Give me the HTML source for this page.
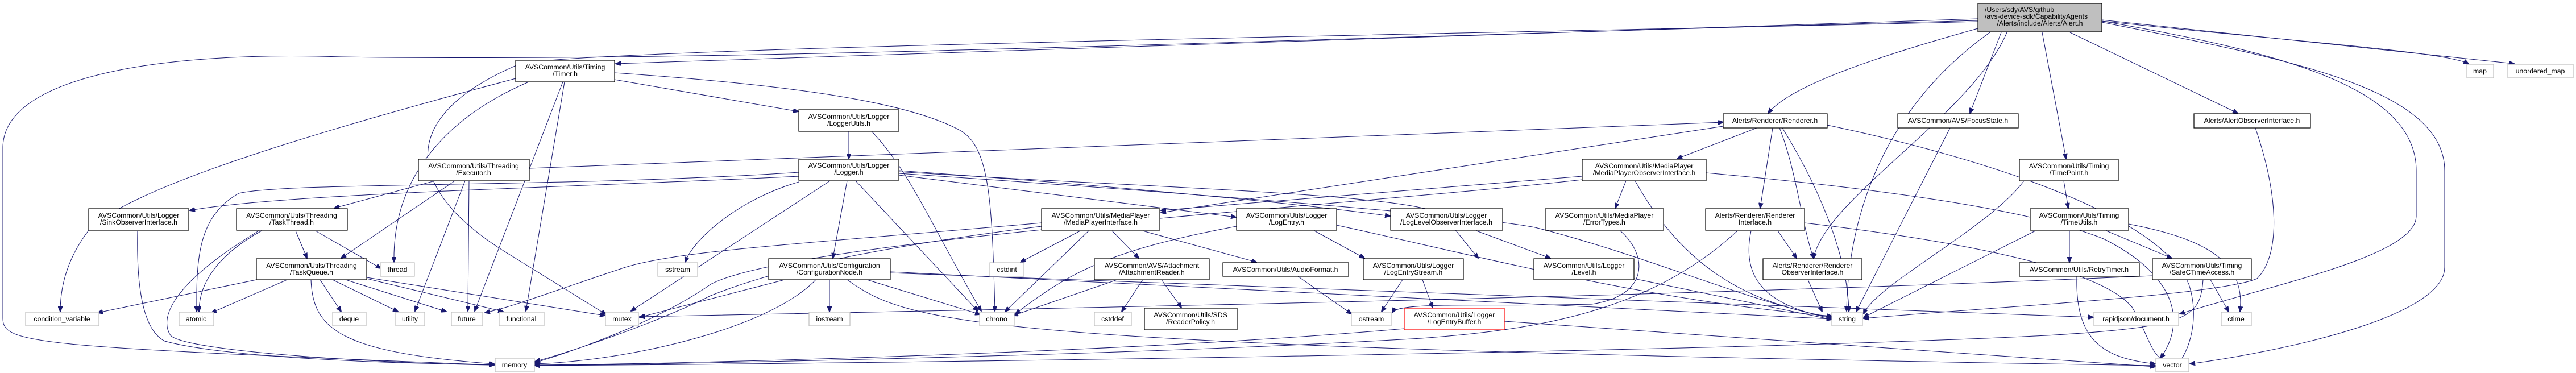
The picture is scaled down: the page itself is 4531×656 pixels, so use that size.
<!DOCTYPE html>
<html><head><meta charset="utf-8"><style>
html,body{margin:0;padding:0;background:#fff;}
svg{display:block;}
text{font-family:"Liberation Sans",Arial,sans-serif;font-size:12.3px;fill:#000;}
.n{fill:#fff;stroke:#000;stroke-width:1.2;}
.g{fill:#fff;stroke:#bfbfbf;stroke-width:1.2;}
.r{fill:#fff;stroke:#ff0000;stroke-width:1.2;}
.m{fill:#bfbfbf;stroke:#000;stroke-width:1.2;}
path{fill:none;stroke:#191970;stroke-width:1;}
</style></head><body>
<svg width="4531" height="656" viewBox="0 0 4531 656" xmlns="http://www.w3.org/2000/svg">
<defs><marker id="a" markerWidth="10" markerHeight="8" refX="9" refY="4" orient="auto" markerUnits="userSpaceOnUse"><polygon points="0,0 10,4 0,8" fill="#191970" stroke="#191970"/></marker></defs>
<g marker-end="url(#a)">
<!-- main -->
<path d="M3479,33 L1083,112"/>
<path d="M3479,36 C2200,70 1300,110 600,100 C300,90 5,130 5,260 L5,560 C5,605 60,610 869,642"/>
<path d="M3479,38 C2600,60 1200,80 920,110 C700,200 700,330 900,450 L1066,553"/>
<path d="M3479,50 C3300,100 3150,150 3110,199"/>
<path d="M3500,57 C3300,200 3250,400 3248,547"/>
<path d="M3520,57 L3465,199"/>
<path d="M3530,57 C3470,200 3210,350 3190,454"/>
<path d="M3592,57 L3634,279"/>
<path d="M3641,57 L3936,199"/>
<path d="M3697,37 C4000,70 4300,90 4342,112"/>
<path d="M3697,35 L4422,112"/>
<path d="M3697,39 C4000,100 4300,150 4300,300 L4300,470 C4300,560 4000,620 3852,640"/>
<path d="M3697,37 C4000,90 4250,150 4250,300 L4250,380 C4250,450 4000,500 3834,552"/>
<!-- Timer -->
<path d="M907,138 C600,220 250,320 160,400 C120,450 106,500 106,548"/>
<path d="M930,144 C800,200 690,300 693,461"/>
<path d="M990,144 L835,547"/>
<path d="M993,144 L925,547"/>
<path d="M1081,140 L1404,196"/>
<path d="M1081,128 C1400,150 1600,180 1690,230 C1740,260 1745,350 1750,547"/>
<!-- LoggerUtils -->
<path d="M1493,231 L1493,279"/>
<path d="M1533,231 C1600,300 1640,400 1726,547"/>
<!-- Logger -->
<path d="M1405,310 C1000,330 500,340 334,370"/>
<path d="M1490,318 L1465,454"/>
<path d="M1405,303 C1000,330 500,320 420,340 C350,380 345,450 346,548"/>
<path d="M1405,320 C1300,350 1220,420 1205,461"/>
<path d="M1460,318 L1110,547"/>
<path d="M1505,318 L1720,547"/>
<path d="M1581,308 L2174,382"/>
<path d="M1581,300 C2000,330 2300,360 2445,380"/>
<path d="M1581,302 C2000,330 2500,340 2540,380 L2600,454"/>
<path d="M1581,305 C2100,340 2600,380 2700,400 C2900,450 3100,540 3222,558"/>
<!-- Executor -->
<path d="M931,296 L3031,215"/>
<path d="M765,318 L588,366"/>
<path d="M800,318 L600,454"/>
<path d="M825,318 L823,547"/>
<path d="M818,318 L730,547"/>
<!-- TaskThread -->
<path d="M520,406 L540,454"/>
<path d="M555,406 L670,472"/>
<path d="M460,406 C380,450 350,500 350,548"/>
<path d="M455,406 C300,500 280,560 300,590 C330,620 700,640 869,642"/>
<!-- Sink -->
<path d="M242,406 C240,500 250,580 290,600 C400,630 700,640 869,641"/>
<!-- TaskQueue -->
<path d="M451,492 L172,550"/>
<path d="M505,492 L372,550"/>
<path d="M563,492 L600,548"/>
<path d="M585,492 L700,548"/>
<path d="M608,492 L785,548"/>
<path d="M645,490 L885,548"/>
<path d="M645,488 L1064,555"/>
<path d="M547,492 C550,580 600,620 869,640"/>
<!-- ConfigurationNode -->
<path d="M1459,492 L1459,548"/>
<path d="M1525,492 L1724,553"/>
<path d="M1380,492 L1125,558"/>
<path d="M1435,492 C1350,580 1100,635 941,640"/>
<path d="M1566,480 L3682,558"/>
<path d="M1566,478 L3222,561"/>
<path d="M1490,492 C1600,570 1700,610 3791,643"/>
<!-- MediaPlayerInterface -->
<path d="M1900,406 L1795,461"/>
<path d="M1915,406 L1768,548"/>
<path d="M1956,406 L2003,454"/>
<path d="M2010,406 L2210,461"/>
<path d="M1832,398 C1500,440 1350,480 1250,520 C1150,570 1000,620 941,636"/>
<path d="M1832,392 C1400,430 1200,440 1100,470 C950,520 900,540 853,550"/>
<!-- AttachmentReader -->
<path d="M2010,492 L1973,548"/>
<path d="M2043,492 L2078,541"/>
<path d="M1965,492 L1782,555"/>
<path d="M2283,486 L2377,552"/>
<!-- LogEntry -->
<path d="M2312,406 L2400,454"/>
<path d="M2175,398 C1950,440 1880,480 1786,552"/>
<path d="M2351,396 C2600,450 2900,530 3222,556"/>
<!-- LogEntryStream -->
<path d="M2467,492 L2430,548"/>
<path d="M2502,492 L2520,541"/>
<path d="M2470,578 C2000,620 1200,640 941,642"/>
<path d="M2646,565 L3791,645"/>
<path d="M2597,406 L2727,454"/>
<path d="M2874,490 L3222,562"/>
<path d="M2850,406 C2900,450 2900,520 2800,535 C2600,540 2460,530 2449,550"/>
<!-- MediaPlayerObserver -->
<path d="M2860,318 L2841,366"/>
<path d="M2783,310 L2042,370"/>
<path d="M3031,222 L2042,374"/>
<path d="M2876,318 C2950,450 3050,530 3222,558"/>
<path d="M3001,304 C3400,340 3600,380 3700,420 C3820,480 3850,560 3800,630"/>
<path d="M2783,316 C2400,360 1400,420 1250,500 C1150,570 1000,620 941,638"/>
<!-- Renderer -->
<path d="M3090,225 L2950,279"/>
<path d="M3118,225 L3096,366"/>
<path d="M3130,225 C3160,300 3170,400 3190,454"/>
<path d="M3135,225 C3200,330 3250,450 3252,548"/>
<path d="M3214,220 C3500,280 3800,380 3850,500 C3870,560 3850,620 3830,640"/>
<!-- RendererInterface -->
<path d="M3127,406 L3160,454"/>
<path d="M3080,406 C3060,500 3120,540 3222,560"/>
<path d="M3056,406 C2900,550 2700,580 2500,595 C2000,625 1200,640 941,643"/>
<path d="M3174,392 C3500,430 3700,480 3750,540 C3780,590 3780,620 3810,638"/>
<path d="M3180,492 L3205,548"/>
<path d="M3430,225 L3265,548"/>
<!-- TimePoint / TimeUtils -->
<path d="M3560,318 C3500,400 3300,500 3278,552"/>
<path d="M3630,318 L3638,366"/>
<path d="M3640,406 L3640,461"/>
<path d="M3705,406 L3820,454"/>
<path d="M3580,406 L3278,558"/>
<path d="M3744,394 C3880,420 3950,460 3940,548"/>
<path d="M3653,486 C3650,600 3700,630 3791,640"/>
<path d="M3888,492 L3920,548"/>
<path d="M3875,492 C3870,560 3850,575 3600,590 C3000,620 1500,640 941,643"/>
<path d="M3786,485 C3000,520 2000,540 1125,557"/>
<path d="M3967,225 C4010,350 4010,450 3970,490 C3900,520 3500,540 3278,560"/>
</g>
<!-- nodes -->
<rect class="m" x="3479" y="6" width="218" height="50"/>
<text x="3491" y="21">/Users/sdy/AVS/github</text>
<text x="3491" y="33">/avs-device-sdk/CapabilityAgents</text>
<text x="3588" y="45" text-anchor="middle">/Alerts/include/Alerts/Alert.h</text>

<g text-anchor="middle">
<rect class="n" x="907" y="106" width="174" height="38"/><text x="994" y="122">AVSCommon/Utils/Timing</text><text x="994" y="134">/Timer.h</text>
<rect class="n" x="736" y="280" width="195" height="38"/><text x="833" y="296">AVSCommon/Utils/Threading</text><text x="833" y="308">/Executor.h</text>
<rect class="n" x="156" y="367" width="176" height="38"/><text x="244" y="383">AVSCommon/Utils/Logger</text><text x="244" y="395">/SinkObserverInterface.h</text>
<rect class="n" x="416" y="367" width="195" height="38"/><text x="513" y="383">AVSCommon/Utils/Threading</text><text x="513" y="395">/TaskThread.h</text>
<rect class="n" x="451" y="455" width="194" height="37"/><text x="548" y="471">AVSCommon/Utils/Threading</text><text x="548" y="483">/TaskQueue.h</text>
<rect class="n" x="1405" y="193" width="176" height="38"/><text x="1493" y="209">AVSCommon/Utils/Logger</text><text x="1493" y="221">/LoggerUtils.h</text>
<rect class="n" x="1405" y="280" width="176" height="37"/><text x="1493" y="295">AVSCommon/Utils/Logger</text><text x="1493" y="307">/Logger.h</text>
<rect class="n" x="1832" y="367" width="208" height="38"/><text x="1936" y="383">AVSCommon/Utils/MediaPlayer</text><text x="1936" y="395">/MediaPlayerInterface.h</text>
<rect class="n" x="2175" y="367" width="176" height="38"/><text x="2263" y="383">AVSCommon/Utils/Logger</text><text x="2263" y="395">/LogEntry.h</text>
<rect class="n" x="1352" y="455" width="214" height="37"/><text x="1459" y="471">AVSCommon/Utils/Configuration</text><text x="1459" y="483">/ConfigurationNode.h</text>
<rect class="n" x="1925" y="455" width="202" height="37"/><text x="2026" y="471">AVSCommon/AVS/Attachment</text><text x="2026" y="483">/AttachmentReader.h</text>
<rect class="n" x="2151" y="462" width="221" height="24"/><text x="2261" y="478">AVSCommon/Utils/AudioFormat.h</text>
<rect class="n" x="2013" y="542" width="163" height="38"/><text x="2094" y="558">AVSCommon/Utils/SDS</text><text x="2094" y="570">/ReaderPolicy.h</text>
<rect class="n" x="3031" y="200" width="183" height="25"/><text x="3122" y="216">Alerts/Renderer/Renderer.h</text>
<rect class="n" x="3338" y="200" width="212" height="25"/><text x="3444" y="216">AVSCommon/AVS/FocusState.h</text>
<rect class="n" x="3859" y="200" width="205" height="25"/><text x="3961" y="216">Alerts/AlertObserverInterface.h</text>
<rect class="n" x="2783" y="280" width="218" height="38"/><text x="2892" y="296">AVSCommon/Utils/MediaPlayer</text><text x="2892" y="308">/MediaPlayerObserverInterface.h</text>
<rect class="n" x="3552" y="280" width="174" height="38"/><text x="3639" y="296">AVSCommon/Utils/Timing</text><text x="3639" y="308">/TimePoint.h</text>
<rect class="n" x="2446" y="367" width="197" height="38"/><text x="2544" y="383">AVSCommon/Utils/Logger</text><text x="2544" y="395">/LogLevelObserverInterface.h</text>
<rect class="n" x="2718" y="367" width="208" height="38"/><text x="2822" y="383">AVSCommon/Utils/MediaPlayer</text><text x="2822" y="395">/ErrorTypes.h</text>
<rect class="n" x="3000" y="367" width="174" height="38"/><text x="3087" y="383">Alerts/Renderer/Renderer</text><text x="3087" y="395">Interface.h</text>
<rect class="n" x="3571" y="367" width="173" height="38"/><text x="3657" y="383">AVSCommon/Utils/Timing</text><text x="3657" y="395">/TimeUtils.h</text>
<rect class="n" x="2398" y="455" width="176" height="37"/><text x="2486" y="471">AVSCommon/Utils/Logger</text><text x="2486" y="483">/LogEntryStream.h</text>
<rect class="n" x="2698" y="455" width="176" height="37"/><text x="2786" y="471">AVSCommon/Utils/Logger</text><text x="2786" y="483">/Level.h</text>
<rect class="n" x="3101" y="455" width="174" height="37"/><text x="3188" y="471">Alerts/Renderer/Renderer</text><text x="3188" y="483">ObserverInterface.h</text>
<rect class="n" x="3552" y="462" width="211" height="24"/><text x="3657" y="478">AVSCommon/Utils/RetryTimer.h</text>
<rect class="n" x="3786" y="455" width="174" height="37"/><text x="3873" y="471">AVSCommon/Utils/Timing</text><text x="3873" y="483">/SafeCTimeAccess.h</text>
<rect class="r" x="2470" y="542" width="176" height="38"/><text x="2558" y="558">AVSCommon/Utils/Logger</text><text x="2558" y="570">/LogEntryBuffer.h</text>

<rect class="g" x="669" y="462" width="60" height="24"/><text x="699" y="478">thread</text>
<rect class="g" x="1157" y="462" width="70" height="24"/><text x="1192" y="478">sstream</text>
<rect class="g" x="1741" y="462" width="60" height="24"/><text x="1771" y="478">cstdint</text>
<rect class="g" x="45" y="549" width="129" height="24"/><text x="109" y="565">condition_variable</text>
<rect class="g" x="315" y="549" width="61" height="24"/><text x="345" y="565">atomic</text>
<rect class="g" x="585" y="549" width="59" height="24"/><text x="614" y="565">deque</text>
<rect class="g" x="696" y="549" width="51" height="24"/><text x="721" y="565">utility</text>
<rect class="g" x="794" y="549" width="55" height="24"/><text x="821" y="565">future</text>
<rect class="g" x="878" y="549" width="79" height="24"/><text x="917" y="565">functional</text>
<rect class="g" x="1065" y="549" width="58" height="24"/><text x="1094" y="565">mutex</text>
<rect class="g" x="1423" y="549" width="72" height="24"/><text x="1459" y="565">iostream</text>
<rect class="g" x="1723" y="549" width="61" height="24"/><text x="1753" y="565">chrono</text>
<rect class="g" x="1925" y="549" width="65" height="24"/><text x="1957" y="565">cstddef</text>
<rect class="g" x="2377" y="549" width="70" height="24"/><text x="2412" y="565">ostream</text>
<rect class="g" x="3222" y="549" width="54" height="24"/><text x="3249" y="565">string</text>
<rect class="g" x="3683" y="549" width="149" height="24"/><text x="3757" y="565">rapidjson/document.h</text>
<rect class="g" x="3907" y="549" width="53" height="24"/><text x="3933" y="565">ctime</text>
<rect class="g" x="871" y="630" width="69" height="24"/><text x="905" y="646">memory</text>
<rect class="g" x="3792" y="630" width="58" height="24"/><text x="3821" y="646">vector</text>
<rect class="g" x="4339" y="113" width="47" height="24"/><text x="4362" y="129">map</text>
<rect class="g" x="4411" y="113" width="115" height="24"/><text x="4468" y="129">unordered_map</text>
</g>
</svg>
</body></html>
